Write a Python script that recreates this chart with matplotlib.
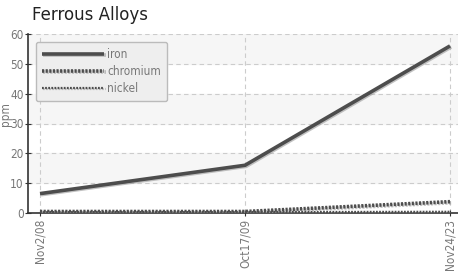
import matplotlib
matplotlib.use("Agg")
import matplotlib.pyplot as plt
import matplotlib.patheffects as pe
from matplotlib import font_manager

dates = ["Nov2/08", "Oct17/09", "Nov24/23"]
iron = [6.5, 16.0, 56.0]
chromium = [0.5, 0.5, 3.8]
nickel = [0.3, 0.3, 0.4]
yticks = [0, 10, 20, 30, 40, 50, 60]

fp = dict(family="DejaVu Sans", stretch="condensed", size=8.5)

def FP():
    return font_manager.FontProperties(**fp)

fig = plt.figure(figsize=(4.58, 2.75), dpi=100)
ax = fig.add_axes([28/458, 1-213/275, 430/458, (213-34)/275])

x = list(range(len(dates)))
for lo in (10, 30, 50):
    ax.axhspan(lo, lo+10, color="#f6f6f6", zorder=0)
ax.set_xlim(-12/205, 2+8/205)
ax.set_ylim(0, 60)

shadow = [pe.SimpleLineShadow(offset=(0.8, -0.8), shadow_color="#999999", alpha=0.6), pe.Normal()]
ax.plot(x, iron, color="#4d4d4d", lw=2.6, label="iron", zorder=4, path_effects=shadow, solid_capstyle="butt")
ax.plot(x, chromium, color="#4d4d4d", lw=2.6, ls=(0, (0.6, 0.4)), label="chromium", zorder=3, path_effects=shadow)
ax.plot(x, nickel, color="#4d4d4d", lw=1.6, ls=(0, (0.8, 0.6)), label="nickel", zorder=3, path_effects=shadow)

ax.set_yticks(yticks)
ax.set_xticks(x)
ax.set_xticklabels(dates, rotation=90, fontproperties=FP(), color="#777777")
ax.set_yticklabels([str(v) for v in yticks], fontproperties=FP(), color="#777777")
ax.grid(True, color="#cccccc", ls=(0, (4, 3)), lw=0.8)
ax.set_axisbelow(True)
for s in ("top", "right"):
    ax.spines[s].set_visible(False)
ax.spines["left"].set_color("#333333")
ax.spines["bottom"].set_color("#333333")
ax.spines["left"].set_linewidth(1.2)
ax.spines["bottom"].set_linewidth(1.2)
ax.tick_params(axis="y", length=4, direction="inout", color="#333333", pad=1)
ax.tick_params(axis="x", length=4, direction="inout", color="#333333", pad=2)
ax.set_ylabel("ppm", fontproperties=FP(), color="#777777", labelpad=0)
ax.yaxis.set_label_coords(-0.037, 0.55)

leg = ax.legend(loc="upper left", bbox_to_anchor=(0.0186, 0.955), borderaxespad=0, prop=FP(),
                handlelength=5.3, handletextpad=0.25, labelspacing=0.35, borderpad=0.5,
                fancybox=True, framealpha=1, facecolor="#eeeeee", edgecolor="#bbbbbb", labelcolor="#777777")
leg.set_zorder(6)

fig.text(32/458, 1-15/275, "Ferrous Alloys", fontsize=12, color="#222222", va="center", ha="left")

fig.savefig("out.png", dpi=100)
